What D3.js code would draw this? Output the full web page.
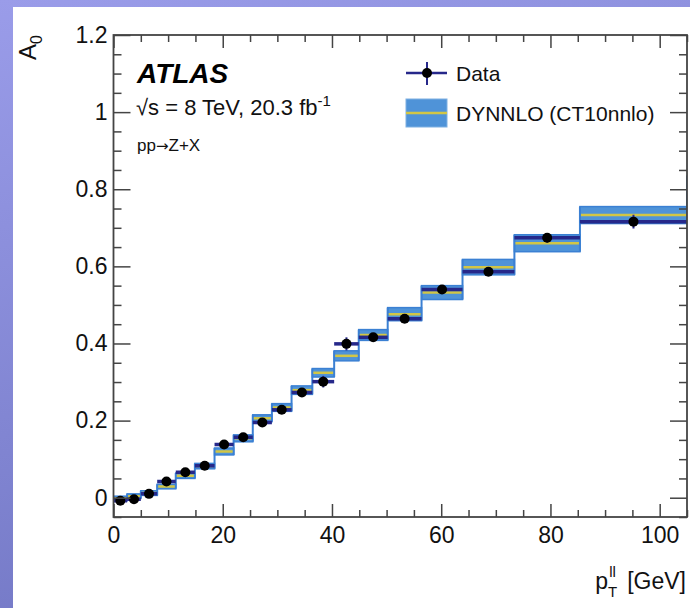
<!DOCTYPE html>
<html lang="en">
<head>
<meta charset="UTF-8">
<title>A0 vs pT</title>
<style>
    body { margin: 0; background: #fff; }
    svg { display: block; font-family: "Liberation Sans", Arial, sans-serif; }
</style>
</head>
<body>
<svg id="chart" width="690" height="608"></svg>
<script src="https://d3js.org/d3.v7.min.js"></script>
<script>
// pT(ll) bin edges [GeV]
var binEdges = [0, 2.5, 5.0, 8.0, 11.4, 14.9, 18.5, 22.0, 25.5, 29.0, 32.6, 36.4, 40.4, 44.9, 50.2, 56.4, 63.9, 73.4, 85.4, 105.0, 132.0];

// measured A0 (one per bin, up to 105 GeV)
var dataA0  = [-0.008, -0.004, 0.010, 0.042, 0.066, 0.083, 0.138, 0.157, 0.195, 0.228, 0.273, 0.301, 0.399, 0.416, 0.464, 0.540, 0.586, 0.674, 0.716];
var dataErr = [0.005, 0.005, 0.005, 0.005, 0.005, 0.005, 0.006, 0.006, 0.007, 0.007, 0.008, 0.015, 0.017, 0.010, 0.010, 0.010, 0.011, 0.012, 0.018];

// DYNNLO prediction (central value and half width of band)
var predA0  = [-0.002, 0.004, 0.012, 0.029, 0.057, 0.082, 0.120, 0.154, 0.206, 0.234, 0.279, 0.324, 0.368, 0.422, 0.476, 0.532, 0.598, 0.660, 0.733, 0.812];
var predErr = [0.006, 0.006, 0.006, 0.006, 0.007, 0.007, 0.009, 0.009, 0.009, 0.010, 0.011, 0.011, 0.013, 0.014, 0.017, 0.018, 0.020, 0.022, 0.022, 0.022];

var xMajor = [0, 20, 40, 60, 80, 100];
var yMajor = [0, 0.2, 0.4, 0.6, 0.8, 1, 1.2];

var svg = d3.select("#chart");

// slide background + white page
var defs = svg.append("defs");
var grad = defs.append("linearGradient")
    .attr("id", "bg").attr("x1", 0).attr("y1", 0).attr("x2", 0.3).attr("y2", 1);
grad.append("stop").attr("offset", 0).attr("stop-color", "#9a9ce9");
grad.append("stop").attr("offset", 1).attr("stop-color", "#7479c6");
svg.append("rect").attr("width", 690).attr("height", 608).attr("fill", "url(#bg)");
svg.append("rect").attr("x", 13).attr("y", 7).attr("width", 677).attr("height", 601).attr("fill", "#fff");

var plotL = 113.5, plotR = 687, plotT = 35, plotB = 517;

var x = d3.scaleLinear().domain([0, 105]).range([plotL, plotR]);
var y = d3.scaleLinear().domain([-0.05, 1.2]).range([plotB, plotT]);

defs.append("clipPath").attr("id", "plotclip")
    .append("rect").attr("x", plotL).attr("y", plotT).attr("width", plotR - plotL).attr("height", plotB - plotT);

var plot = svg.append("g").attr("clip-path", "url(#plotclip)");

// prediction band
var bins = predA0.map(function(v, i) {
    return { x0: binEdges[i], x1: binEdges[i + 1], v: v, e: predErr[i] };
});

var bandFill = "#4f93d8", bandLine = "#3b80d3";

plot.selectAll(".band").data(bins).enter().append("rect")
    .attr("class", "band")
    .attr("x", function(d) { return x(d.x0); })
    .attr("width", function(d) { return x(d.x1) - x(d.x0); })
    .attr("y", function(d) { return y(d.v + d.e); })
    .attr("height", function(d) { return y(d.v - d.e) - y(d.v + d.e); })
    .attr("fill", bandFill)
    .attr("stroke", bandLine)
    .attr("stroke-width", 1.5);

// step connections between bins
plot.selectAll(".conn").data(bins.slice(1)).enter().append("line")
    .attr("x1", function(d) { return x(d.x0); })
    .attr("x2", function(d) { return x(d.x0); })
    .attr("y1", function(d, i) { var p = bins[i]; return y(Math.min(p.v - p.e, d.v - d.e)); })
    .attr("y2", function(d, i) { var p = bins[i]; return y(Math.max(p.v + p.e, d.v + d.e)); })
    .attr("stroke", bandLine)
    .attr("stroke-width", 2);

// central value
plot.selectAll(".central").data(bins).enter().append("line")
    .attr("x1", function(d) { return x(d.x0) + 1; })
    .attr("x2", function(d) { return x(d.x1) - 1; })
    .attr("y1", function(d) { return y(d.v); })
    .attr("y2", function(d) { return y(d.v); })
    .attr("stroke", "#d2c645")
    .attr("stroke-width", 2.5);

// data points
var pts = dataA0.map(function(v, i) {
    return { x0: binEdges[i], x1: binEdges[i + 1], v: v, e: dataErr[i] };
});
var navy = "#26288a";

plot.selectAll(".xerr").data(pts).enter().append("line")
    .attr("x1", function(d) { return x(d.x0); })
    .attr("x2", function(d) { return x(d.x1); })
    .attr("y1", function(d) { return y(d.v); })
    .attr("y2", function(d) { return y(d.v); })
    .attr("stroke", navy)
    .attr("stroke-width", 3.5);

plot.selectAll(".yerr").data(pts).enter().append("line")
    .attr("x1", function(d) { return x((d.x0 + d.x1) / 2); })
    .attr("x2", function(d) { return x((d.x0 + d.x1) / 2); })
    .attr("y1", function(d) { return y(d.v - d.e); })
    .attr("y2", function(d) { return y(d.v + d.e); })
    .attr("stroke", navy)
    .attr("stroke-width", 2);

plot.selectAll(".dot").data(pts).enter().append("circle")
    .attr("cx", function(d) { return x((d.x0 + d.x1) / 2); })
    .attr("cy", function(d) { return y(d.v); })
    .attr("r", 5)
    .attr("fill", "#000");

// axes with inward ticks on all four sides
var xMinor = d3.range(0, 106, 5).filter(function(v) { return v % 20 !== 0; });
var yMinor = d3.range(-0.05, 1.2001, 0.05).map(function(v) { return +v.toFixed(2); })
    .filter(function(v) { return Math.abs(v * 5 - Math.round(v * 5)) > 1e-6; });

function styleAxis(g) {
    g.select(".domain").remove();
    g.selectAll("line").attr("stroke", "#444").attr("stroke-width", 1.5);
    g.selectAll("text").attr("fill", "#111").attr("font-size", "23px")
        .attr("font-family", "Liberation Sans, Arial, sans-serif");
}

svg.append("g").attr("transform", "translate(0," + plotB + ")")
    .call(d3.axisBottom(x).tickValues(xMajor).tickSize(-13).tickPadding(10).tickFormat(d3.format("d")))
    .call(styleAxis);
svg.append("g").attr("transform", "translate(0," + plotB + ")")
    .call(d3.axisBottom(x).tickValues(xMinor).tickSize(-7).tickFormat(""))
    .call(styleAxis);
svg.append("g").attr("transform", "translate(0," + plotT + ")")
    .call(d3.axisTop(x).tickValues(xMajor).tickSize(-13).tickFormat(""))
    .call(styleAxis);
svg.append("g").attr("transform", "translate(0," + plotT + ")")
    .call(d3.axisTop(x).tickValues(xMinor).tickSize(-7).tickFormat(""))
    .call(styleAxis);

svg.append("g").attr("transform", "translate(" + plotL + ",0)")
    .call(d3.axisLeft(y).tickValues(yMajor).tickSize(-17).tickPadding(6).tickFormat(d3.format("~g")))
    .call(styleAxis);
svg.append("g").attr("transform", "translate(" + plotL + ",0)")
    .call(d3.axisLeft(y).tickValues(yMinor).tickSize(-8).tickFormat(""))
    .call(styleAxis);
svg.append("g").attr("transform", "translate(" + plotR + ",0)")
    .call(d3.axisRight(y).tickValues(yMajor).tickSize(-17).tickFormat(""))
    .call(styleAxis);
svg.append("g").attr("transform", "translate(" + plotR + ",0)")
    .call(d3.axisRight(y).tickValues(yMinor).tickSize(-8).tickFormat(""))
    .call(styleAxis);

svg.append("rect")
    .attr("x", plotL).attr("y", plotT).attr("width", plotR - plotL).attr("height", plotB - plotT)
    .attr("fill", "none").attr("stroke", "#444").attr("stroke-width", 1.8);

// axis titles
var yt = svg.append("text")
    .attr("transform", "translate(36," + plotT + ") rotate(-90)")
    .attr("text-anchor", "end")
    .attr("font-size", "24px").attr("fill", "#111");
yt.append("tspan").text("A");
yt.append("tspan").attr("font-size", "16px").attr("dy", 6).text("0");

// x title: p, subscript T, superscript ll, then unit
var xt = svg.append("text")
    .attr("x", 686).attr("y", 589)
    .attr("text-anchor", "end")
    .attr("font-size", "23px").attr("fill", "#111");
xt.append("tspan").text("p");
xt.append("tspan").attr("font-size", "15px").attr("dy", 8).text("T");
xt.append("tspan").attr("font-size", "15px").attr("dx", -8).attr("dy", -20).text("ll");
xt.append("tspan").attr("dx", 5).attr("dy", 12).text(" [GeV]");

// labels
svg.append("text").attr("x", 137).attr("y", 83)
    .attr("font-size", "28px").attr("font-weight", "bold").attr("font-style", "italic")
    .attr("fill", "#000").text("ATLAS");

var en = svg.append("text").attr("x", 136).attr("y", 115)
    .attr("font-size", "22px").attr("fill", "#111");
en.append("tspan").text("\u221As = 8 TeV, 20.3 fb");
en.append("tspan").attr("font-size", "15px").attr("dy", -9).text("-1");

var proc = svg.append("text").attr("x", 137).attr("y", 151)
    .attr("font-size", "17px").attr("fill", "#111");
proc.append("tspan").text("pp");
proc.append("tspan").attr("font-family", "DejaVu Sans").attr("font-size", "15px").text("\u2192");
proc.append("tspan").text("Z+X");

// legend
var lg = svg.append("g");
lg.append("line").attr("x1", 406).attr("x2", 447).attr("y1", 73).attr("y2", 73)
    .attr("stroke", navy).attr("stroke-width", 2.5);
lg.append("line").attr("x1", 427).attr("x2", 427).attr("y1", 62).attr("y2", 85)
    .attr("stroke", navy).attr("stroke-width", 2);
lg.append("circle").attr("cx", 427).attr("cy", 73).attr("r", 5).attr("fill", "#000");
lg.append("text").attr("x", 456).attr("y", 81).attr("font-size", "21px").attr("fill", "#111").text("Data");

lg.append("rect").attr("x", 406).attr("y", 99).attr("width", 41).attr("height", 28)
    .attr("fill", bandFill).attr("stroke", "#7fb0e2").attr("stroke-width", 1);
lg.append("line").attr("x1", 406).attr("x2", 447).attr("y1", 113).attr("y2", 113)
    .attr("stroke", "#d2c645").attr("stroke-width", 2.5);
lg.append("text").attr("x", 456).attr("y", 121).attr("font-size", "21px").attr("fill", "#111").text("DYNNLO (CT10nnlo)");
</script>
</body>
</html>
